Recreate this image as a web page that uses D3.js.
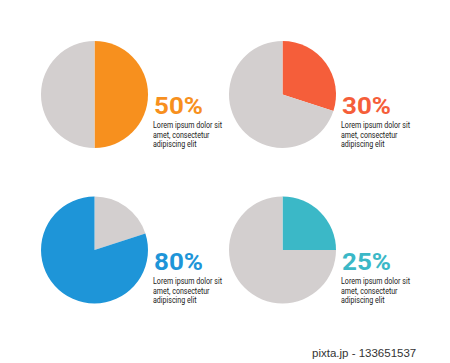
<!DOCTYPE html>
<html>
<head>
<meta charset="utf-8">
<script src="https://cdn.jsdelivr.net/npm/d3@7"></script>
<style>
  body { margin: 0; background: #fff; }
  svg { display: block; }
</style>
</head>
<body>
<div id="chart"></div>
<script>
// values
var percents = [50, 30, 80, 25];
var colors = ["#f7901e", "#f55e3a", "#1e95d8", "#3bb8c7"];
var labels = ["50%", "30%", "80%", "25%"];
var descLines = ["Lorem ipsum dolor sit", "amet, consectetur", "adipiscing elit"];
var descWidths = [69, 56.5, 43.5];
var restColor = "#d3cfcf";

var width = 450,
    height = 363,
    radius = 53.5;

var svg = d3.select("#chart").append("svg")
    .attr("width", width)
    .attr("height", height);

// 2x2 grid of panels
var col = d3.scaleOrdinal().domain([0, 1]).range([94.5, 282.5]),
    row = d3.scaleOrdinal().domain([0, 1]).range([94.5, 250]);

var pie = d3.pie().sort(null).value(function(d) { return d.v; });
var arc = d3.arc().innerRadius(0).outerRadius(radius);

percents.forEach(function(p, i) {
    var cx = col(i % 2),
        cy = row(Math.floor(i / 2));

    // big shares start after the grey part
    var parts = p > 50
        ? [{v: 100 - p, c: restColor}, {v: p, c: colors[i]}]
        : [{v: p, c: colors[i]}, {v: 100 - p, c: restColor}];

    var g = svg.append("g")
        .attr("transform", "translate(" + cx + "," + cy + ")");

    g.selectAll("path")
      .data(pie(parts))
      .enter().append("path")
      .attr("d", arc)
      .attr("fill", function(d) { return d.data.c; });

    var tx = cx + 59.5,
        ty = cy + (i < 2 ? 19.5 : 20);

    svg.append("text")
        .attr("x", tx)
        .attr("y", ty)
        .attr("font-family", "Roboto, sans-serif")
        .attr("font-weight", 700)
        .attr("font-size", 23)
        .attr("textLength", 49)
        .attr("lengthAdjust", "spacingAndGlyphs")
        .attr("fill", colors[i])
        .text(labels[i]);

    descLines.forEach(function(line, j) {
        svg.append("text")
            .attr("x", tx - 1)
            .attr("y", ty + 14 + j * 9.5)
            .attr("font-family", "Roboto, sans-serif")
            .attr("font-size", 8.8)
            .attr("textLength", descWidths[j])
            .attr("lengthAdjust", "spacingAndGlyphs")
            .attr("fill", "#1a1a1a")
            .text(line);
    });
});

svg.append("text")
    .attr("x", 312)
    .attr("y", 357)
    .attr("font-family", "Liberation Sans, Arial, sans-serif")
    .attr("font-size", 11.5)
    .attr("fill", "#333")
    .text("pixta.jp - 133651537");
</script>
</body>
</html>
